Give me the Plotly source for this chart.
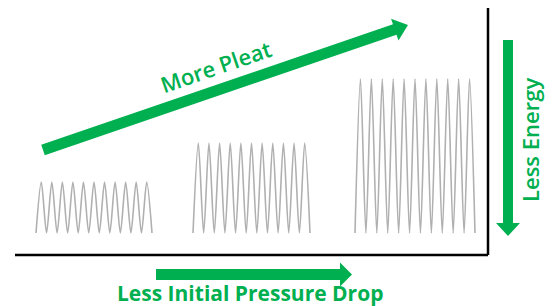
import numpy as np
import plotly.graph_objects as go

# ---- data (pleat groups) ----
group_names = ["Low pleat", "Medium pleat", "High pleat"]
group_left = [36, 193, 355]
group_right = [152, 310, 475]
pleat_counts = [11, 11, 11]
pleat_base = [22, 22, 22]
pleat_top = [73, 112, 176]

# labels
label_x = "Less Initial Pressure Drop"
label_y = "Less Energy"
label_diag = "More Pleat"

GREEN = "#00B050"
W, H = 552, 306
Y0 = 255  # pixel row of the bottom axis line


def py(v):
    return Y0 - v


fig = go.Figure()

for name, l, r, n, b, t in zip(group_names, group_left, group_right, pleat_counts, pleat_base, pleat_top):
    xs = np.linspace(l, r, 2 * n + 1)
    ys = [b if i % 2 == 0 else t for i in range(2 * n + 1)]
    fig.add_trace(go.Scatter(x=xs, y=ys, mode="lines", name=name,
                             line=dict(color="#b0b0b0", width=1.6, shape="spline", smoothing=0.8),
                             hoverinfo="skip", showlegend=False))


def arrow_path(x0, y0, x1, y1, shaft, head_w, head_l):
    dx, dy = x1 - x0, y1 - y0
    L = (dx * dx + dy * dy) ** 0.5
    ux, uy = dx / L, dy / L
    nx, ny = -uy, ux
    bx, by = x1 - ux * head_l, y1 - uy * head_l
    pts = [
        (x0 + nx * shaft / 2, y0 + ny * shaft / 2),
        (bx + nx * shaft / 2, by + ny * shaft / 2),
        (bx + nx * head_w / 2, by + ny * head_w / 2),
        (x1, y1),
        (bx - nx * head_w / 2, by - ny * head_w / 2),
        (bx - nx * shaft / 2, by - ny * shaft / 2),
        (x0 - nx * shaft / 2, y0 - ny * shaft / 2),
    ]
    return "M " + " L ".join(f"{a:.2f},{c:.2f}" for a, c in pts) + " Z"


# axis lines
fig.add_shape(type="line", x0=15, x1=488, y0=0, y1=0, line=dict(color="black", width=2.5))
fig.add_shape(type="line", x0=488, x1=488, y0=0, y1=py(8), line=dict(color="black", width=2.5))

# arrows
fig.add_shape(type="path", path=arrow_path(156, py(274.5), 352, py(274.5), 11, 24, 12),
              fillcolor=GREEN, line=dict(width=0))
fig.add_shape(type="path", path=arrow_path(508, py(40), 508, py(236), 10, 24, 13),
              fillcolor=GREEN, line=dict(width=0))
fig.add_shape(type="path", path=arrow_path(43, py(150), 408, py(25), 11, 23, 14),
              fillcolor=GREEN, line=dict(width=0))

fig.add_annotation(x=249.5, y=py(292.5), text=label_x, showarrow=False, borderpad=0,
                   font=dict(family="Open Sans", size=21, color=GREEN, weight=700),
                   xanchor="center", yanchor="middle")
fig.add_annotation(x=530, y=py(140), text=label_y, showarrow=False, textangle=-90,
                   font=dict(family="Open Sans", size=22, color=GREEN, weight=600),
                   xanchor="center", yanchor="middle")
fig.add_annotation(x=216, y=py(66), text=label_diag, showarrow=False, textangle=-19,
                   font=dict(family="Open Sans", size=22, color=GREEN, weight=600),
                   xanchor="center", yanchor="middle")

fig.update_layout(width=W, height=H, margin=dict(l=0, r=0, t=0, b=0),
                  paper_bgcolor="white", plot_bgcolor="white", showlegend=False)
fig.update_xaxes(range=[0, W], visible=False, fixedrange=True)
fig.update_yaxes(range=[py(H), py(0)], visible=False, fixedrange=True)

fig.write_html("out.html", config={"displayModeBar": False},
               post_script="document.body.style.margin='0';document.body.style.overflow='hidden';")
